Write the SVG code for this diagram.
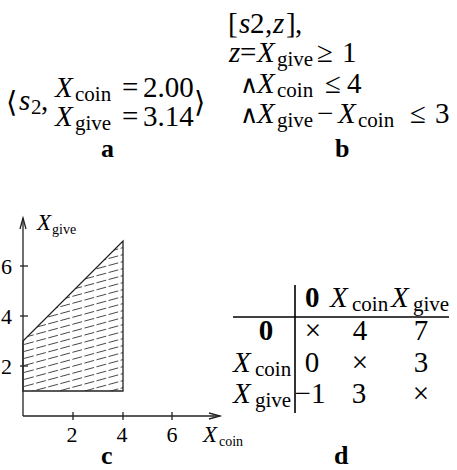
<svg xmlns="http://www.w3.org/2000/svg" width="457" height="470" viewBox="0 0 457 470">
<style>
.m{font-family:"Liberation Serif","Times New Roman",serif;font-size:29px;}
.i{font-family:"Liberation Serif",serif;font-size:29px;font-style:italic;}
.s{font-family:"Liberation Serif",serif;font-size:21px;}
.b{font-family:"Liberation Serif",serif;font-size:26px;font-weight:bold;}
.bz{font-family:"Liberation Serif",serif;font-size:29px;font-weight:bold;}
.br{font-family:"DejaVu Serif","DejaVu Sans",serif;font-size:29px;}
.t{font-family:"Liberation Serif",serif;font-size:22px;}
.c{text-anchor:middle;}
.ax{stroke:#222;stroke-width:1.3;fill:none;}
.hatch{stroke:#333;stroke-width:0.9;stroke-dasharray:10 2.5;fill:none;}
.tab{stroke:#000;stroke-width:1.6;}
</style>
<defs>
<clipPath id="reg"><polygon points="23,391 123,391 123,241 23,341"/></clipPath>
</defs>

<g id="panel-a">
<text class="br" x="6" y="112">⟨</text>
<text class="i" x="19" y="110">s</text>
<text class="s" x="31" y="114">2</text>
<text class="m" x="41" y="110">,</text>
<text class="i" x="55" y="97">X</text>
<text class="s" x="75" y="101">coin</text>
<text class="m" x="122" y="97">=</text>
<text class="m" x="143" y="97">2.00</text>
<text class="i" x="55" y="126">X</text>
<text class="s" x="75" y="130">give</text>
<text class="m" x="122" y="126">=</text>
<text class="m" x="143" y="126">3.14</text>
<text class="br" x="194" y="112">⟩</text>
<text class="b" x="101" y="157">a</text>
</g>

<g id="panel-b">
<text class="m" x="228" y="33">[</text>
<text class="i" x="239" y="33">s</text>
<text class="m" x="250" y="33">2</text>
<text class="m" x="265" y="33">,</text>
<text class="i" x="273" y="33">z</text>
<text class="m" x="286" y="33">]</text>
<text class="m" x="295" y="33">,</text>

<text class="i" x="229" y="62">z</text>
<text class="m" x="240" y="62">=</text>
<text class="i" x="257" y="62">X</text>
<text class="s" x="277" y="66">give</text>
<text class="m" x="317" y="62">≥</text>
<text class="m" x="342" y="62">1</text>

<text class="m" x="240" y="93" style="font-size:25px">∧</text>
<text class="i" x="257" y="93">X</text>
<text class="s" x="277" y="97">coin</text>
<text class="m" x="325" y="93">≤</text>
<text class="m" x="347" y="93">4</text>

<text class="m" x="240" y="123" style="font-size:25px">∧</text>
<text class="i" x="257" y="123">X</text>
<text class="s" x="277" y="127">give</text>
<text class="m" x="317" y="123">−</text>
<text class="i" x="338" y="123">X</text>
<text class="s" x="358" y="127">coin</text>
<text class="m" x="410" y="123">≤</text>
<text class="m" x="435" y="123">3</text>
<text class="b" x="335" y="157">b</text>
</g>

<g id="panel-c">
<g clip-path="url(#reg)">
<g id="hatching">
<line class="hatch" x1="0" y1="428" x2="140" y2="390"/>
<line class="hatch" x1="0" y1="421" x2="140" y2="383"/>
<line class="hatch" x1="0" y1="414" x2="140" y2="376"/>
<line class="hatch" x1="0" y1="407" x2="140" y2="369"/>
<line class="hatch" x1="0" y1="400" x2="140" y2="362"/>
<line class="hatch" x1="0" y1="393" x2="140" y2="355"/>
<line class="hatch" x1="0" y1="386" x2="140" y2="348"/>
<line class="hatch" x1="0" y1="379" x2="140" y2="341"/>
<line class="hatch" x1="0" y1="372" x2="140" y2="334"/>
<line class="hatch" x1="0" y1="365" x2="140" y2="327"/>
<line class="hatch" x1="0" y1="358" x2="140" y2="320"/>
<line class="hatch" x1="0" y1="351" x2="140" y2="313"/>
<line class="hatch" x1="0" y1="344" x2="140" y2="306"/>
<line class="hatch" x1="0" y1="337" x2="140" y2="299"/>
<line class="hatch" x1="0" y1="330" x2="140" y2="292"/>
<line class="hatch" x1="0" y1="323" x2="140" y2="285"/>
<line class="hatch" x1="0" y1="316" x2="140" y2="278"/>
<line class="hatch" x1="0" y1="309" x2="140" y2="271"/>
<line class="hatch" x1="0" y1="302" x2="140" y2="264"/>
<line class="hatch" x1="0" y1="295" x2="140" y2="257"/>
<line class="hatch" x1="0" y1="288" x2="140" y2="250"/>
<line class="hatch" x1="0" y1="281" x2="140" y2="243"/>
<line class="hatch" x1="0" y1="274" x2="140" y2="236"/>
<line class="hatch" x1="0" y1="267" x2="140" y2="229"/>
</g>
</g>
<polygon class="ax" points="23,391 123,391 123,241 23,341" stroke-width="1.1"/>
<line class="ax" x1="23" y1="416" x2="23" y2="218"/>
<polyline class="ax" points="20,229 23,218 26,229"/>
<line class="ax" x1="23" y1="416" x2="220" y2="416"/>
<polyline class="ax" points="209,413 220,416 209,419"/>
<line class="ax" x1="73" y1="412" x2="73" y2="420"/>
<line class="ax" x1="123" y1="412" x2="123" y2="420"/>
<line class="ax" x1="172" y1="412" x2="172" y2="420"/>
<line class="ax" x1="20" y1="266" x2="28" y2="266"/>
<line class="ax" x1="20" y1="316" x2="28" y2="316"/>
<line class="ax" x1="20" y1="366" x2="28" y2="366"/>
<text class="t c" x="72" y="442">2</text>
<text class="t c" x="122" y="442">4</text>
<text class="t c" x="172" y="442">6</text>
<text class="t" x="1" y="274">6</text>
<text class="t" x="1" y="324">4</text>
<text class="t" x="1" y="374">2</text>
<text class="i" x="37" y="230" style="font-size:23px">X</text>
<text class="s" x="52" y="234" style="font-size:14px">give</text>
<text class="i" x="203" y="442" style="font-size:23px">X</text>
<text class="s" x="219" y="446" style="font-size:14px">coin</text>
<text class="b" x="101" y="464">c</text>
</g>

<g id="panel-d">
<line class="tab" x1="295" y1="285" x2="295" y2="413"/>
<line class="tab" x1="233" y1="317" x2="449" y2="317"/>
<text class="bz" x="305" y="307">0</text>
<text class="i" x="330" y="307">X</text>
<text class="s" x="352" y="311">coin</text>
<text class="i" x="391" y="307">X</text>
<text class="s" x="413" y="311">give</text>

<text class="bz c" x="266" y="340">0</text>
<text class="m c" x="313" y="340">×</text>
<text class="m c" x="360" y="340">4</text>
<text class="m c" x="421" y="340">7</text>

<text class="i" x="233" y="372">X</text>
<text class="s" x="255" y="376">coin</text>
<text class="m c" x="312" y="372">0</text>
<text class="m c" x="360" y="372">×</text>
<text class="m c" x="421" y="372">3</text>

<text class="i" x="233" y="403">X</text>
<text class="s" x="255" y="407">give</text>
<text class="m c" x="310" y="403">−1</text>
<text class="m c" x="359" y="403">3</text>
<text class="m c" x="421" y="403">×</text>
<text class="b" x="334" y="464">d</text>
</g>
</svg>
